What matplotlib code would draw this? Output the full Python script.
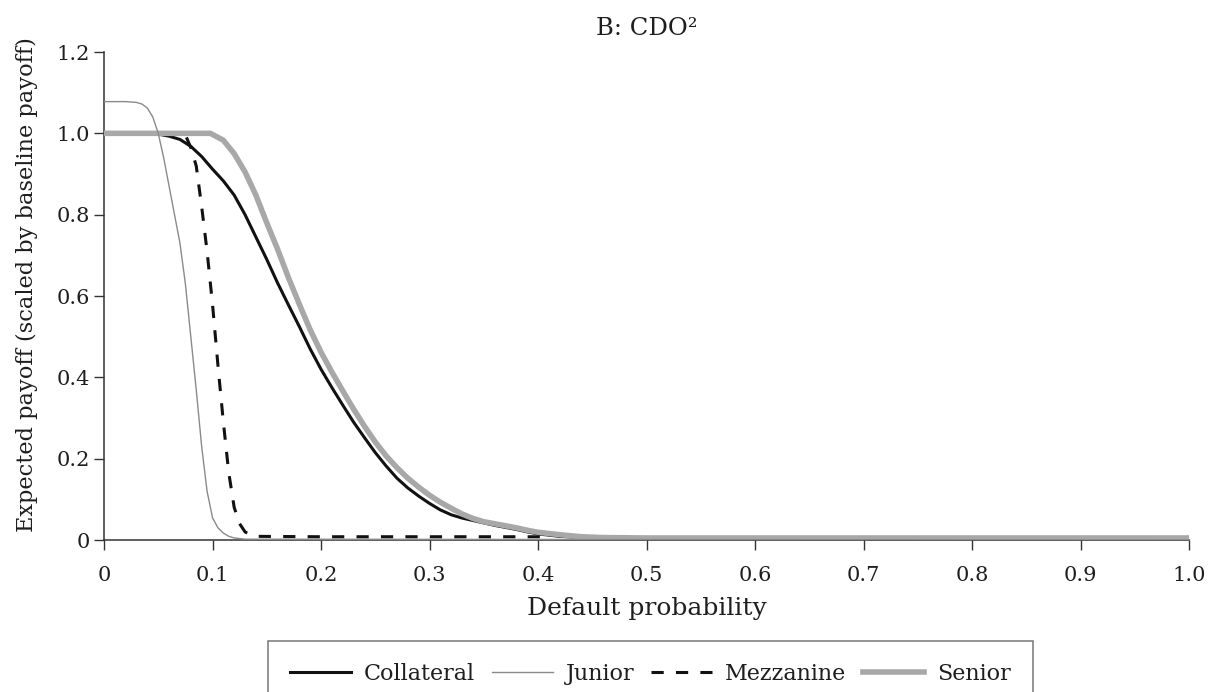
import matplotlib
matplotlib.use("Agg")
import matplotlib.pyplot as plt

# ---------------- data ----------------
coll_x = [0.0, 0.02, 0.04, 0.05, 0.06, 0.07, 0.08, 0.09, 0.10, 0.11, 0.12, 0.13,
          0.14, 0.15, 0.16, 0.17, 0.18, 0.19, 0.20, 0.21, 0.22, 0.23, 0.24, 0.25,
          0.26, 0.27, 0.28, 0.29, 0.30, 0.31, 0.32, 0.33, 0.34, 0.35, 0.36, 0.37,
          0.38, 0.39, 0.40, 0.42, 0.44, 0.46, 0.50, 1.0]
coll_y = [1.0, 1.0, 1.0, 0.998, 0.993, 0.985, 0.968, 0.943, 0.912, 0.883, 0.848, 0.80,
          0.745, 0.69, 0.632, 0.578, 0.525, 0.47, 0.42, 0.375, 0.332, 0.29, 0.252, 0.215,
          0.182, 0.152, 0.128, 0.108, 0.09, 0.074, 0.062, 0.054, 0.048, 0.042, 0.036, 0.031,
          0.026, 0.02, 0.015, 0.009, 0.006, 0.004, 0.003, 0.003]

jun_x = [0.0, 0.02, 0.03, 0.035, 0.04, 0.045, 0.05, 0.055, 0.06, 0.065, 0.07, 0.075,
         0.08, 0.085, 0.09, 0.095, 0.10, 0.105, 0.11, 0.115, 0.12, 0.13, 1.0]
jun_y = [1.078, 1.078, 1.076, 1.072, 1.062, 1.04, 1.0, 0.94, 0.87, 0.80, 0.73, 0.63,
         0.50, 0.37, 0.23, 0.12, 0.055, 0.03, 0.017, 0.009, 0.005, 0.002, 0.0]

mez_x = [0.076, 0.08, 0.085, 0.09, 0.095, 0.10, 0.105, 0.11, 0.115, 0.12, 0.125,
         0.13, 0.135, 0.14, 0.2, 0.3, 0.41]
mez_y = [0.99, 0.965, 0.92, 0.82, 0.71, 0.58, 0.43, 0.29, 0.165, 0.08, 0.04,
         0.02, 0.012, 0.009, 0.008, 0.008, 0.008]

sen_x = [0.0, 0.05, 0.098, 0.11, 0.12, 0.13, 0.14, 0.15, 0.16, 0.17, 0.18, 0.19,
         0.20, 0.21, 0.22, 0.23, 0.24, 0.25, 0.26, 0.27, 0.28, 0.29, 0.30, 0.31,
         0.32, 0.33, 0.34, 0.35, 0.36, 0.37, 0.38, 0.39, 0.40, 0.42, 0.44, 0.46,
         0.50, 1.0]
sen_y = [1.0, 1.0, 1.0, 0.983, 0.95, 0.905, 0.848, 0.78, 0.715, 0.645, 0.58, 0.517,
         0.462, 0.413, 0.367, 0.322, 0.28, 0.241, 0.207, 0.178, 0.152, 0.13, 0.11, 0.093,
         0.078, 0.064, 0.053, 0.045, 0.04, 0.035, 0.03, 0.024, 0.019, 0.013, 0.008, 0.006,
         0.005, 0.005]

x_ticks = [0, 0.1, 0.2, 0.3, 0.4, 0.5, 0.6, 0.7, 0.8, 0.9, 1.0]
x_tick_labels = ["0", "0.1", "0.2", "0.3", "0.4", "0.5", "0.6", "0.7", "0.8", "0.9", "1.0"]
y_ticks = [0, 0.2, 0.4, 0.6, 0.8, 1.0, 1.2]
y_tick_labels = ["0", "0.2", "0.4", "0.6", "0.8", "1.0", "1.2"]

# ---------------- figure ----------------
plt.rcParams['font.family'] = ['DejaVu Serif']
fig = plt.figure(figsize=(12.09, 6.92), dpi=100)
ax = fig.add_axes([104/1209, 1-540/692, (1189-104)/1209, (540-52)/692])

l_coll, = ax.plot(coll_x, coll_y, color="#111111", lw=2.2, label="Collateral",
                  solid_joinstyle="round", zorder=3)
l_sen, = ax.plot(sen_x, sen_y, color="#a8a8a8", lw=4.0, label="Senior",
                 solid_joinstyle="round", zorder=4)
l_jun, = ax.plot(jun_x, jun_y, color="#8a8a8a", lw=1.0, label="Junior", zorder=5)
l_mez, = ax.plot(mez_x, mez_y, color="#111111", lw=2.2, label="Mezzanine",
                 dashes=(4.0, 4.0), zorder=6)

ax.set_xlim(0, 1.0)
ax.set_ylim(0, 1.2)
ax.set_xticks(x_ticks)
ax.set_xticklabels(x_tick_labels)
ax.set_yticks(y_ticks)
ax.set_yticklabels(y_tick_labels)

for s in ["top", "right"]:
    ax.spines[s].set_visible(False)
for s in ["left", "bottom"]:
    ax.spines[s].set_color("#333333")
    ax.spines[s].set_linewidth(1.1)

ax.tick_params(axis="both", direction="out", length=7, width=1.0, color="#333333",
               labelsize=15, labelcolor="#1e1e1e")
ax.tick_params(axis="x", pad=11.5)
ax.tick_params(axis="y", pad=3)

ax.set_xlabel("Default probability", fontsize=18, color="#1e1e1e", labelpad=9)
ax.set_ylabel("Expected payoff (scaled by baseline payoff)", fontsize=16.2,
              color="#1e1e1e")
ax.yaxis.set_label_coords(-0.0608, 0.5225)
ax.set_title("B: CDO²", fontsize=17.5, color="#1e1e1e", pad=12)

leg = fig.legend(handles=[l_coll, l_jun, l_mez, l_sen],
                 labels=["Collateral", "Junior", "Mezzanine", "Senior"],
                 loc="upper left", bbox_to_anchor=(268/1209, 1-641/692),
                 ncol=4, frameon=True, fancybox=False, shadow=False,
                 fontsize=16, handlelength=2.75, handletextpad=0.58,
                 columnspacing=0.75, borderpad=1.0, borderaxespad=0)
leg.get_frame().set_edgecolor("#555555")
leg.get_frame().set_linewidth(1.1)
for t in leg.get_texts():
    t.set_color("#1e1e1e")

fig.savefig("out.png", dpi=100)
